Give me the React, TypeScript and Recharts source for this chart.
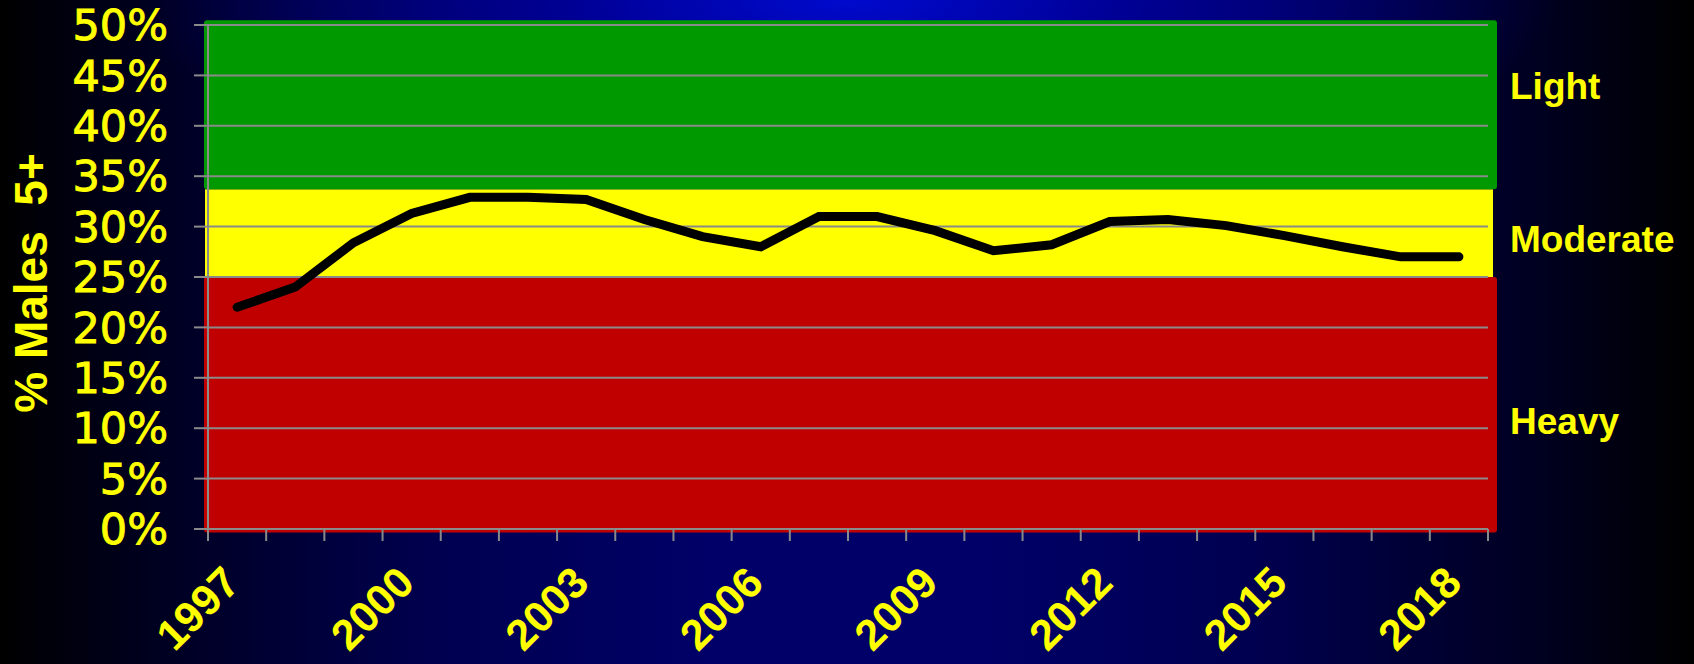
import React from 'react';
import {
  LineChart,
  Line,
  XAxis,
  YAxis,
  ReferenceArea,
  ReferenceLine,
} from 'recharts';

// survey years and share of males drinking 5+ (percent)
const years = [1997, 1998, 1999, 2000, 2001, 2002, 2003, 2004, 2005, 2006, 2007, 2008, 2009, 2010, 2011, 2012, 2013, 2014, 2015, 2016, 2017, 2018];
const males5plus = [22.0, 24.0, 28.4, 31.3, 32.9, 32.9, 32.7, 30.7, 29.0, 28.0, 31.0, 31.0, 29.6, 27.6, 28.2, 30.5, 30.7, 30.1, 29.1, 28.0, 27.0, 27.0];

const yearTicks = [1997, 2000, 2003, 2006, 2009, 2012, 2015, 2018];
const yTicks = [0, 5, 10, 15, 20, 25, 30, 35, 40, 45, 50];

const bandNames = ['Heavy', 'Moderate', 'Light'];
const bandFrom = [0, 25, 33.7];
const bandTo = [25, 33.7, 50];
const bandColors = ['#C00000', '#FFFF00', '#009900'];

const chartData = years.map((year, i) => ({ year, value: males5plus[i] }));
// boundaries between categories get the tick marks, labelled years get text
const boundaryTicks = [...years.map((y) => y - 0.5), years[years.length - 1] + 0.5];
const allXTicks = [...boundaryTicks, ...yearTicks].sort((a, b) => a - b);

// how far each coloured box spills past the plot (left, right, top, bottom) and label baseline
const bandPad = [
  { l: 4, r: 9, t: 0, b: 3.5, rx: 3, labelDy: 157 },
  { l: 3, r: 5, t: 0, b: 0, rx: 0, labelDy: 63 },
  { l: 4, r: 9, t: 4.7, b: 0, rx: 3, labelDy: 74 },
];

const GRID = '#8a8a8a';
const YELLOW = '#FFFF00';

const XTick = (props: any) => {
  const { x, y, payload } = props;
  const v = payload.value;
  if (!Number.isInteger(v)) {
    return <line x1={x} y1={y} x2={x} y2={y + 12} stroke={GRID} strokeWidth={2} />;
  }
  const ax = x + 5;
  const ay = y + 56;
  return (
    <text
      x={ax}
      y={ay}
      transform={`rotate(-45 ${ax} ${ay})`}
      textAnchor="end"
      fill={YELLOW}
      fontFamily="'Liberation Sans', Arial, sans-serif"
      fontWeight="bold"
      fontSize={43}
    >
      {v}
    </text>
  );
};

const App = () => {
  return (
    <div
      style={{
        position: 'absolute',
        left: 0,
        top: 0,
        width: 1694,
        height: 664,
        background:
          'radial-gradient(ellipse 42% 30% at 50% 0%, rgba(0,10,205,1) 0%, rgba(0,0,170,0.7) 40%, rgba(0,0,120,0) 100%), linear-gradient(to right, #000000 0%, #000020 9%, #000050 26%, #000068 42%, #000068 58%, #000050 74%, #000020 91%, #000000 100%)',
      }}
    >
      <LineChart
        width={1694}
        height={664}
        data={chartData}
        margin={{ top: 25, right: 206, bottom: 21, left: 0 }}
      >
        <XAxis
          type="number"
          dataKey="year"
          domain={[1996.5, 2018.5]}
          ticks={allXTicks}
          interval={0}
          tickSize={0}
          tickMargin={0}
          tickLine={false}
          height={114}
          axisLine={{ stroke: GRID, strokeWidth: 2 }}
          tick={<XTick />}
        />
        <YAxis
          type="number"
          domain={[0, 50]}
          ticks={yTicks}
          interval={0}
          width={208}
          tickSize={14}
          tickMargin={26}
          tickFormatter={(v: number) => `${v}%`}
          tick={{
            fill: YELLOW,
            stroke: YELLOW,
            strokeWidth: 0.9,
            fontSize: 43,
            fontFamily: "'DejaVu Sans', Verdana, sans-serif",
          }}
          axisLine={{ stroke: GRID, strokeWidth: 2 }}
          tickLine={{ stroke: GRID, strokeWidth: 2 }}
          label={{
            content: (p: any) => {
              const vb = p.viewBox;
              const cx = vb.x + 47;
              const cy = vb.y + vb.height / 2 + 6;
              return (
                <text
                  x={cx}
                  y={cy}
                  transform={`rotate(-90 ${cx} ${cy})`}
                  textAnchor="middle"
                  fill={YELLOW}
                  fontFamily="'Liberation Sans', Arial, sans-serif"
                  fontWeight="bold"
                  fontSize={46}
                  style={{ whiteSpace: 'pre' }}
                >
                  {'% Males  5+'}
                </text>
              );
            },
          }}
        />
        {bandNames.map((name, i) => {
          const pad = bandPad[i];
          return (
            <ReferenceArea
              key={name}
              y1={bandFrom[i]}
              y2={bandTo[i]}
              fill={bandColors[i]}
              fillOpacity={1}
              stroke="none"
              ifOverflow="visible"
              shape={(s: any) => (
                <rect
                  x={s.x - pad.l}
                  y={s.y - pad.t}
                  width={s.width + pad.l + pad.r}
                  height={s.height + pad.t + pad.b}
                  rx={pad.rx}
                  fill={bandColors[i]}
                />
              )}
              label={{
                content: (p: any) => {
                  const vb = p.viewBox;
                  return (
                    <text
                      x={vb.x + vb.width + 22}
                      y={vb.y + pad.labelDy}
                      fill={YELLOW}
                      fontFamily="'Liberation Sans', Arial, sans-serif"
                      fontWeight="bold"
                      fontSize={37}
                    >
                      {name}
                    </text>
                  );
                },
              }}
            />
          );
        })}
        {yTicks.slice(1).map((t) => (
          <ReferenceLine key={t} y={t} stroke={GRID} strokeWidth={2} />
        ))}
        <Line
          type="linear"
          dataKey="value"
          stroke="#000000"
          strokeWidth={9}
          strokeLinecap="round"
          dot={false}
          activeDot={false}
          isAnimationActive={false}
        />
      </LineChart>
    </div>
  );
};

export default App;
